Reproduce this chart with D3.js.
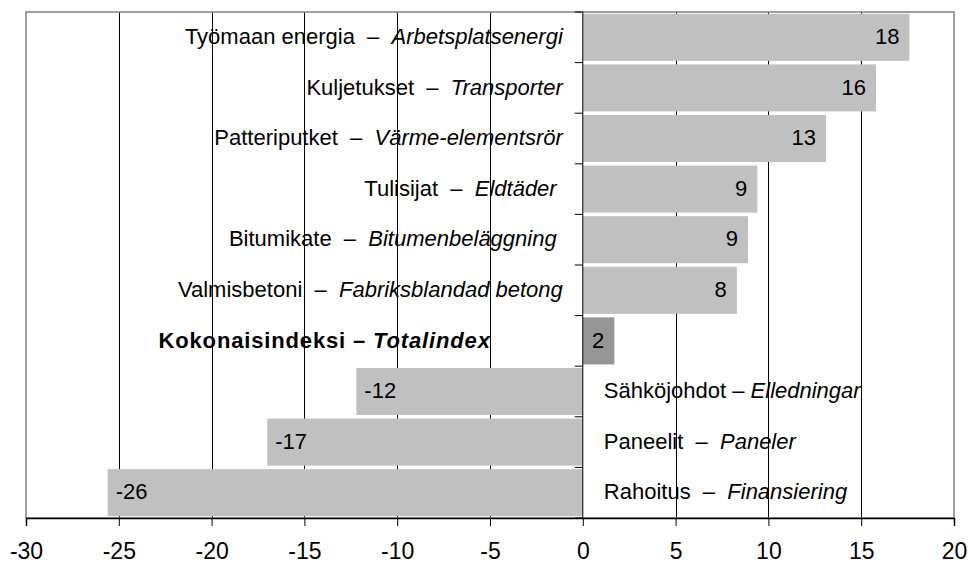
<!DOCTYPE html>
<html>
<head>
<meta charset="utf-8">
<script src="https://cdn.jsdelivr.net/npm/d3@7"></script>
<style>
  body { margin: 0; background: #fff; }
  text { font-family: Arial, "Liberation Sans", sans-serif; }
</style>
</head>
<body>
<svg width="969" height="565"></svg>
<script>
// categories, Finnish and Swedish names
const namesFi = ["Työmaan energia", "Kuljetukset", "Patteriputket", "Tulisijat", "Bitumikate",
  "Valmisbetoni", "Kokonaisindeksi", "Sähköjohdot", "Paneelit", "Rahoitus"];
const namesSv = ["Arbetsplatsenergi", "Transporter", "Värme-elementsrör", "Eldtäder ", "Bitumenbeläggning ",
  "Fabriksblandad betong", "Totalindex", "Elledningar", "Paneler", "Finansiering"];
const separators = ["  –  ", "  –  ", "  –  ", "  –  ", "  –  ", "  –  ", " – ", " – ", "  –  ", "  –  "];
const values = [17.6, 15.8, 13.1, 9.4, 8.9, 8.3, 1.7, -12.2, -17.0, -25.6];
const valueLabels = ["18", "16", "13", "9", "9", "8", "2", "-12", "-17", "-26"];
const totalName = "Kokonaisindeksi";
const xTicks = [-30, -25, -20, -15, -10, -5, 0, 5, 10, 15, 20];

const plot = { left: 26, right: 954, top: 12, bottom: 518 };

var svg = d3.select("svg");

var x = d3.scaleLinear().domain([-30, 20]).range([plot.left, plot.right]);
var y = d3.scaleBand().domain(namesFi).range([plot.top, plot.bottom])
  .paddingInner(0.07).paddingOuter(0.035);

// vertical grid lines
svg.append("g").selectAll("line").data(xTicks.filter(t => t != 0 && t != -30 && t != 20)).enter()
  .append("line")
  .attr("x1", d => Math.round(x(d)) + 0.5)
  .attr("x2", d => Math.round(x(d)) + 0.5)
  .attr("y1", plot.top)
  .attr("y2", plot.bottom)
  .attr("stroke", "#000")
  .attr("stroke-width", 1);

// plot border
svg.append("rect")
  .attr("x", plot.left)
  .attr("y", plot.top)
  .attr("width", plot.right - plot.left)
  .attr("height", plot.bottom - plot.top)
  .attr("fill", "none")
  .attr("stroke", "#808080")
  .attr("stroke-width", 1.5);

// bars
svg.append("g").selectAll("rect").data(values).enter()
  .append("rect")
  .attr("x", d => x(Math.min(0, d)))
  .attr("y", (d, i) => y(namesFi[i]))
  .attr("width", d => Math.abs(x(d) - x(0)))
  .attr("height", y.bandwidth())
  .attr("fill", (d, i) => namesFi[i] == totalName ? "#969696" : "#c0c0c0");

// value labels inside bars
svg.append("g").selectAll("text").data(values).enter()
  .append("text")
  .attr("x", d => d >= 0 ? x(d) - 10 : x(d) + 8)
  .attr("y", (d, i) => y(namesFi[i]) + y.bandwidth() / 2)
  .attr("dy", "0.3em")
  .attr("text-anchor", d => d >= 0 ? "end" : "start")
  .style("font-size", "22px")
  .attr("fill", "#000")
  .text((d, i) => valueLabels[i]);

// category labels
var labels = svg.append("g").selectAll("text").data(namesFi).enter()
  .append("text")
  .attr("x", (d, i) => {
    if (d == totalName) return x(0) - 92;
    return values[i] >= 0 ? x(0) - 20 : x(0) + 21;
  })
  .attr("y", d => y(d) + y.bandwidth() / 2)
  .attr("dy", "0.3em")
  .attr("text-anchor", (d, i) => values[i] >= 0 ? "end" : "start")
  .attr("font-weight", d => d == totalName ? 700 : 400)
  .attr("letter-spacing", d => d == totalName ? "0.85px" : null)
  .style("font-size", "22px")
  .style("white-space", "pre");

labels.append("tspan").text((d, i) => d + separators[i]);
labels.append("tspan").attr("font-style", "italic").text((d, i) => namesSv[i]);

// y axis at zero
var yAxis = svg.append("g").attr("transform", "translate(" + x(0) + ",0)");
yAxis.append("line")
  .attr("x1", 0).attr("x2", 0)
  .attr("y1", plot.top).attr("y2", plot.bottom)
  .attr("stroke", "#000");
var bounds = namesFi.map(d => y(d) - y.step() * y.paddingInner() / 2).concat([plot.bottom]);
yAxis.selectAll(".tk").data(bounds).enter()
  .append("line")
  .attr("x1", -8).attr("x2", 0)
  .attr("y1", d => d).attr("y2", d => d)
  .attr("stroke", "#000");

// x axis
var xAxis = svg.append("g")
  .attr("transform", "translate(0," + plot.bottom + ")")
  .call(d3.axisBottom(x).tickValues(xTicks).tickFormat(d => String(d)).tickSize(8).tickPadding(17));
xAxis.select(".domain").attr("stroke", "#000").attr("stroke-width", 1.5);
xAxis.selectAll(".tick line").attr("stroke", "#000");
xAxis.selectAll(".tick text")
  .attr("fill", "#000")
  .style("font-size", "23px")
  .style("font-family", "Arial, 'Liberation Sans', sans-serif");
</script>
</body>
</html>
